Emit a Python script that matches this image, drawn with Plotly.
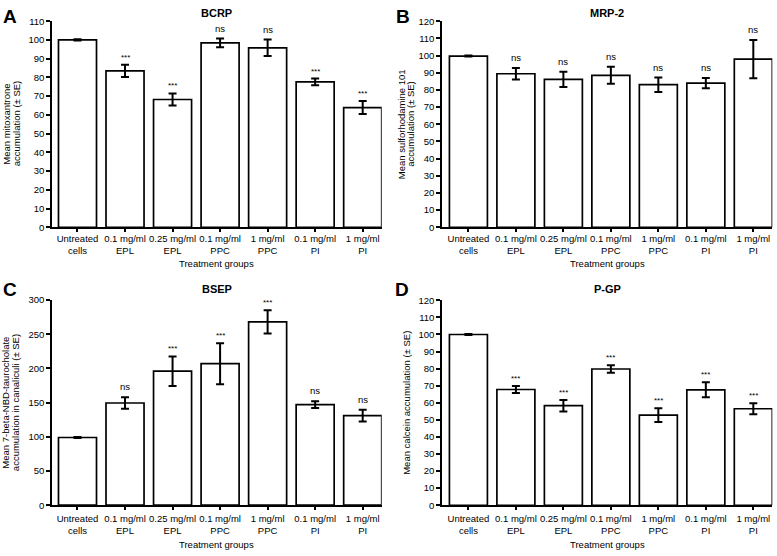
import plotly.graph_objects as go

W, H = 777, 556

categories = ["Untreated<br>cells", "0.1 mg/ml<br>EPL", "0.25 mg/ml<br>EPL", "0.1 mg/ml<br>PPC",
              "1 mg/ml<br>PPC", "0.1 mg/ml<br>PI", "1 mg/ml<br>PI"]

bcrp_mean = [100, 83.5, 68.2, 98.4, 95.8, 77.6, 63.9]
bcrp_se = [0.3, 3.3, 3.2, 2.3, 4.4, 1.8, 3.5]
bcrp_sig = ["", "***", "***", "ns", "ns", "***", "***"]

mrp2_mean = [99.7, 89.4, 86.1, 88.5, 83.0, 83.9, 97.9]
mrp2_se = [0.3, 3.4, 4.5, 5.0, 4.2, 3.0, 11.1]
mrp2_sig = ["", "ns", "ns", "ns", "ns", "ns", "ns"]

bsep_mean = [99, 149.5, 196, 207, 268, 147, 131]
bsep_se = [0.8, 8.3, 21.5, 30, 17, 5, 8.5]
bsep_sig = ["", "ns", "***", "***", "***", "ns", "ns"]

pgp_mean = [100, 67.8, 58.3, 79.8, 52.8, 67.6, 56.5]
pgp_se = [0.3, 2.0, 3.4, 2.2, 4.0, 4.4, 3.2]
pgp_sig = ["", "***", "***", "***", "***", "***", "***"]

FONT = "Liberation Sans, Arial, Helvetica, sans-serif"

def px_x(x):
    return x / W

def px_y(y):
    return 1 - y / H

panels = [
    dict(letter="A", title="BCRP", mean=bcrp_mean, se=bcrp_se, sig=bcrp_sig,
         x0=52.3, x1=381.7, y0=225.7, y1=15.5, yrange=[0, 110], dtick=10, xlo=-0.53,
         ylab=["Mean mitoxantrone", "accumulation (\u00b1 SE)"], ylab_x=[6.5, 16],
         letter_xy=(10, 11), title_y=7, xtitle_y=263, standoff=-2),
    dict(letter="B", title="MRP-2", mean=mrp2_mean, se=mrp2_se, sig=mrp2_sig,
         x0=442.3, x1=772.3, y0=225.7, y1=15.5, yrange=[0, 120], dtick=10, xlo=-0.55,
         ylab=["Mean sulforhodamine 101", "accumulation (\u00b1 SE)"], ylab_x=[401, 410.5],
         letter_xy=(403, 11), title_y=7, xtitle_y=263, standoff=-2),
    dict(letter="C", title="BSEP", mean=bsep_mean, se=bsep_se, sig=bsep_sig,
         x0=52.3, x1=381.7, y0=509.3, y1=300.0, yrange=[0, 300], dtick=50, xlo=-0.53,
         ylab=["Mean 7-beta-NBD-taurocholate", "accumulation in canaliculi (\u00b1 SE)"], ylab_x=[6, 15.5],
         letter_xy=(10, 289.5), title_y=289, xtitle_y=549, standoff=0),
    dict(letter="D", title="P-GP", mean=pgp_mean, se=pgp_se, sig=pgp_sig,
         x0=442.3, x1=772.3, y0=509.3, y1=300.3, yrange=[0, 120], dtick=10, xlo=-0.55,
         ylab=["Mean calcein accumulation (\u00b1 SE)"], ylab_x=[407],
         letter_xy=(402, 289), title_y=289, xtitle_y=549, standoff=0),
]

fig = go.Figure()
annotations = []
layout_axes = {}

for i, p in enumerate(panels):
    n = "" if i == 0 else str(i + 1)
    xa, ya = "x" + n, "y" + n
    fig.add_trace(go.Bar(
        x=categories, y=p["mean"], xaxis=xa, yaxis=ya,
        marker=dict(color="white", line=dict(color="black", width=1.7)),
        error_y=dict(type="data", array=p["se"], visible=True, color="black",
                     thickness=2, width=4),
        width=0.8, showlegend=False, hoverinfo="skip",
    ))
    axis_common = dict(showline=True, linecolor="black", linewidth=2, ticks="outside",
                       tickcolor="black", tickwidth=1.5, showgrid=False, zeroline=False,
                       tickfont=dict(family=FONT, size=9.5, color="black"))
    layout_axes["xaxis" + n] = dict(axis_common, domain=[px_x(p["x0"]), px_x(p["x1"])],
                                    anchor=ya, range=[p["xlo"], 6.4], ticklen=3,
                                    type="category", ticklabelstandoff=p["standoff"])
    layout_axes["yaxis" + n] = dict(axis_common, domain=[px_y(p["y0"]), px_y(p["y1"])],
                                    anchor=xa, range=p["yrange"], dtick=p["dtick"], ticklen=4)
    for c, m, s, t in zip(categories, p["mean"], p["se"], p["sig"]):
        if t:
            annotations.append(dict(x=c, y=m + s, xref=xa, yref=ya, text=t, showarrow=False,
                                    yanchor="bottom", yshift=3 if t == "ns" else 1,
                                    font=dict(family=FONT, size=9.5 if t == "ns" else 8, color="black")))
    annotations.append(dict(x=px_x(p["letter_xy"][0]), y=px_y(p["letter_xy"][1]), xref="paper", yref="paper",
                            text="<b>%s</b>" % p["letter"], showarrow=False, xanchor="center", yanchor="middle",
                            font=dict(family=FONT, size=19, color="black")))
    annotations.append(dict(x=px_x((p["x0"] + p["x1"]) / 2), y=px_y(p["title_y"]), xref="paper", yref="paper",
                            text="<b>%s</b>" % p["title"], showarrow=False, xanchor="center", yanchor="middle",
                            font=dict(family=FONT, size=11, color="black")))
    annotations.append(dict(x=px_x((p["x0"] + p["x1"]) / 2), y=px_y(p["xtitle_y"]), xref="paper", yref="paper",
                            text="Treatment groups", showarrow=False, xanchor="center", yanchor="middle",
                            font=dict(family=FONT, size=9.5, color="black")))
    yc = (p["y0"] + p["y1"]) / 2
    for line, lx in zip(p["ylab"], p["ylab_x"]):
        annotations.append(dict(x=px_x(lx), y=px_y(yc), xref="paper", yref="paper", text=line,
                                showarrow=False, textangle=-90, xanchor="center", yanchor="middle",
                                font=dict(family=FONT, size=9.5, color="black")))

fig.update_layout(
    width=W, height=H, margin=dict(l=0, r=0, t=0, b=0),
    paper_bgcolor="white", plot_bgcolor="white",
    bargap=0.2, annotations=annotations, **layout_axes,
)

fig.write_html("out.html", config={"displayModeBar": False},
               post_script="document.body.style.margin='0px';document.body.style.overflow='hidden';")
